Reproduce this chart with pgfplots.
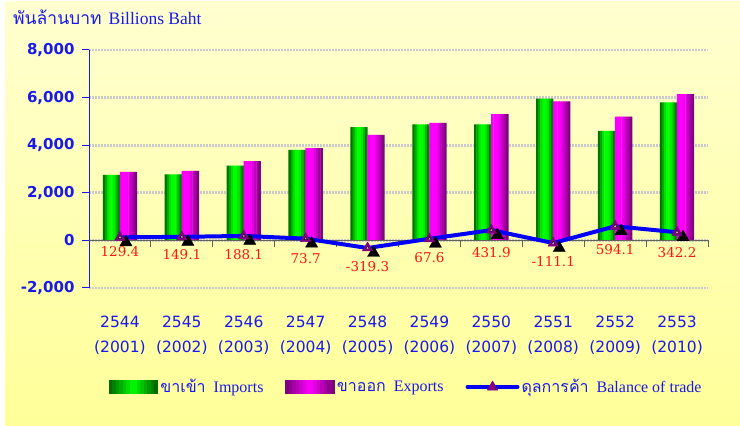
\documentclass[border=0pt]{standalone}
\usepackage{fontspec}
\setmainfont{Liberation Serif}
\newfontfamily\thai[Script=Thai]{Loma}
\newfontfamily\dvs{DejaVu Sans}
\newfontfamily\dvserif{DejaVu Serif}
\usepackage{pgfplots}
\pgfplotsset{compat=1.18}
\definecolor{tblue}{RGB}{25,25,235}
\definecolor{lblue}{RGB}{0,0,250}
\definecolor{bgtop}{RGB}{255,255,208}
\definecolor{bgbot}{RGB}{255,255,153}
\definecolor{dpurple}{RGB}{128,0,128}
\definecolor{gridc}{RGB}{200,200,205}
\definecolor{zeroc}{RGB}{100,100,85}
\definecolor{lred}{RGB}{255,20,20}
\definecolor{pinkin}{RGB}{230,160,230}
\definecolor{ga}{RGB}{0,105,0}
\definecolor{gd}{RGB}{0,255,0}
\definecolor{ma}{RGB}{125,0,125}
\definecolor{md}{RGB}{255,0,255}

\pgfplotstableread{
x y
0 2752.0
1 2775.0
2 3139.0
3 3801.0
4 4755.0
5 4871.0
6 4870.0
7 5952.0
8 4602.0
9 5800.0
}\imports
\pgfplotstableread{
x y
0 2881.4
1 2924.1
2 3327.1
3 3874.7
4 4435.7
5 4938.6
6 5301.9
7 5840.9
8 5196.1
9 6142.2
}\exports
\pgfplotstableread{
x y
0 129.4
1 149.1
2 188.1
3 73.7
4 -319.3
5 67.6
6 431.9
7 -111.1
8 594.1
9 342.2
}\balance
\pgfplotstableread{
x y lab
0 -487 129.4
1 -613 149.1
2 -584 188.1
3 -752 73.7
4 -1105 -319.3
5 -727 67.6
6 -500 431.9
7 -895 -111.1
8 -403 594.1
9 -500 342.2
}\labels

% one vertical slice of every import bar / export bar (to give the bars a horizontal gradient)
\newcommand\gslice[2]{\addplot[ybar, bar width=2.5bp, bar shift=#1bp, draw=none,
  fill={rgb,255:red,0;green,#2;blue,0}, forget plot] table[x=x,y=y]{\imports};}
\newcommand\mslice[2]{\addplot[ybar, bar width=2.5bp, bar shift=#1bp, draw=none,
  fill={rgb,255:red,#2;green,0;blue,#2}, forget plot] table[x=x,y=y]{\exports};}
% gradient box for the legend: dark at both ends, bright in the middle
\newcommand\gbox[2]{%
  \foreach \gi in {0,...,13}{%
    \pgfmathsetmacro\gpct{abs(\gi-6.5)/6.5*100}%
    \path[draw=none, fill=#1!\gpct!#2] (\gi*3.5bp,-7bp) rectangle ++(4bp,14bp);}}

\begin{document}
\begin{tikzpicture}
\fill[white] (0bp,0bp) rectangle (740bp,426bp);
\shade[top color=bgtop, bottom color=bgbot] (5bp,0bp) rectangle (740bp,424bp);
\node[anchor=west, text=tblue, inner sep=0pt] at (13bp,409bp)
  {\fontsize{17.5bp}{20bp}\selectfont{\thai พันล้านบาท}\hspace{7bp}Billions Baht};
\begin{axis}[
  at={(89bp,138bp)}, anchor=south west,
  scale only axis, width=619bp, height=238bp,
  xmin=-0.5, xmax=9.5, ymin=-2000, ymax=8000,
  clip=false,
  axis x line=bottom, axis y line=left,
  x axis line style={draw=none},
  y axis line style={-, tblue, line width=1bp},
  xtick={0,...,9},
  xticklabels={{2544\\(2001)},{2545\\(2002)},{2546\\(2003)},{2547\\(2004)},{2548\\(2005)},{2549\\(2006)},{2550\\(2007)},{2551\\(2008)},{2552\\(2009)},{2553\\(2010)}},
  xtick style={draw=none},
  xticklabel style={align=center, text=tblue, font=\dvs\fontsize{15.5bp}{25bp}\selectfont, yshift=-17bp},
  ytick={-2000,0,2000,4000,6000,8000},
  ytick style={tblue, line width=1bp},
  tick align=outside,
  major tick length=7bp,
  yticklabel style={text=tblue, font=\dvs\bfseries\fontsize{15bp}{17bp}\selectfont, xshift=-4bp},
  yticklabel={\pgfmathprintnumber[assume math mode=true, 1000 sep={,}]{\tick}},
  ymajorgrids,
  major grid style={gridc, line width=2.8bp, dash pattern=on 2bp off 1bp},
  legend style={at={(0.027,-0.416)}, anchor=west, draw=none, fill=none,
    legend columns=-1, text=tblue, font=\fontsize{16bp}{18bp}\selectfont,
    /tikz/every even column/.append style={column sep=20bp}},
  legend cell align=left,
]
\gslice{-15.94}{115}
\gslice{-13.81}{170}
\gslice{-11.69}{225}
\gslice{-9.56}{255}
\gslice{-7.44}{255}
\gslice{-5.31}{235}
\gslice{-3.19}{185}
\gslice{-1.06}{130}
\mslice{1.06}{245}
\mslice{3.19}{255}
\mslice{5.31}{255}
\mslice{7.44}{245}
\mslice{9.56}{222}
\mslice{11.69}{192}
\mslice{13.81}{160}
\mslice{15.94}{130}
\addlegendimage{draw=none, legend image code/.code={\gbox{ga}{gd}}}
\addlegendentry{{\thai ขาเข้า}\hspace{8bp}Imports}
\addlegendimage{draw=none, legend image code/.code={\gbox{ma}{md}}}
\addlegendentry{{\thai ขาออก}\hspace{8bp}Exports}
\draw[zeroc, line width=1.5bp] (axis cs:-0.5,0) -- (axis cs:9.5,0);
\pgfplotsinvokeforeach{0.5,1.5,2.5,3.5,4.5,5.5,6.5,7.5,8.5,9.5}{
  \draw[zeroc, line width=1bp] (axis cs:#1,0) -- ++(0bp,-7bp);
}
\addplot[only marks, mark=triangle*, mark size=7bp, mark options={black, xshift=6bp, yshift=-5bp}, forget plot]
  table[x=x,y=y] {\balance};
\addplot[lblue, line width=4bp, line cap=round, line join=round, mark=triangle*, mark size=6bp,
  mark options={fill=dpurple, draw=dpurple, line width=0.5bp},
  legend image code/.code={\draw[lblue, line width=4bp, line cap=round] (0bp,0bp) -- (50bp,0bp);
    \draw[mark options={fill=dpurple, draw=dpurple, line width=0.5bp}, mark size=6bp] plot[mark=triangle*] coordinates {(25bp,0bp)};}]
  table[x=x,y=y] {\balance};
\addlegendentry{{\thai ดุลการค้า}\hspace{8bp}Balance of trade}
\addplot[only marks, mark=triangle*, mark size=2bp, mark options={fill=pinkin, draw=none}, forget plot]
  table[x=x,y=y] {\balance};
\addplot[draw=none, mark=none, nodes near coords, point meta=explicit symbolic,
  every node near coord/.style={anchor=center, text=lred, inner sep=0pt, font=\dvserif\fontsize{13.5bp}{15bp}\selectfont},
  forget plot]
  table[x=x,y=y,meta=lab] {\labels};
\end{axis}
\useasboundingbox (0bp,0bp) rectangle (740bp,426bp);
\end{tikzpicture}
\end{document}
